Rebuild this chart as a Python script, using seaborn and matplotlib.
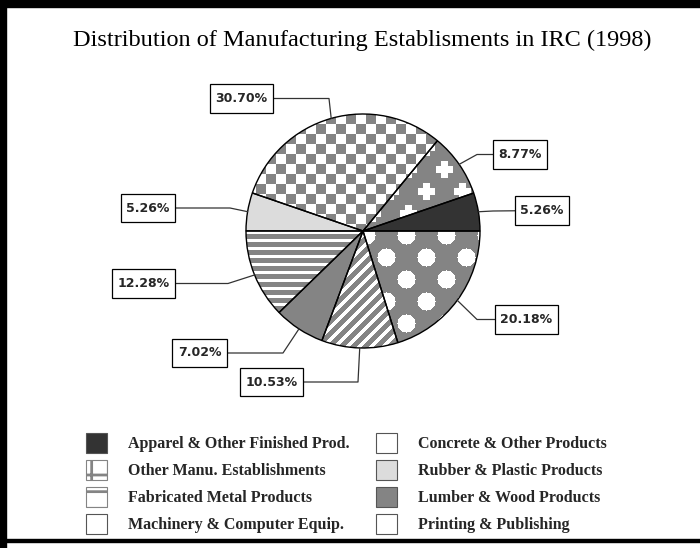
# plot.py
import numpy as np
import matplotlib
matplotlib.use('Agg')
import matplotlib.pyplot as plt
from matplotlib.patches import Patch, Rectangle
from matplotlib.path import Path
import seaborn as sns

# === 1. Data ===
title = 'Distribution of Manufacturing Establisments in IRC (1998)'
categories = ['Apparel & Other Finished Prod.', 'Concrete & Other Products',
              'Other Manu. Establishments', 'Rubber & Plastic Products',
              'Fabricated Metal Products', 'Lumber & Wood Products',
              'Machinery & Computer Equip.', 'Printing & Publishing']
shares = [5.26, 8.77, 30.70, 5.26, 12.28, 7.02, 10.53, 20.18]

# === 2. Styles ===
GRAY = '#848484'
fills = ['#333333', GRAY, GRAY, '#dcdcdc', GRAY, GRAY, GRAY, GRAY]
patterns = [None, 'cross', 'checker', None, 'hstripe', None, 'diag', 'dots']
legend_faces = ['#333333', 'white', 'white', '#dcdcdc', 'white', GRAY, 'white', 'white']
legend_hatch = [None, None, '+', None, '-', None, None, None]

# layout in pixels of the 700x548 canvas
CX, CY, R_PX = 363, 231, 117
W, H = 700, 548
box_px = [(542, 210.5), (520, 154.5), (241.5, 98.5), (148, 208),
          (143.5, 283.5), (199.5, 353), (271.5, 382), (526.5, 319.5)]
elbow_px = [(493, 211), (477, 154.5), (329, 98.5), (230, 208),
            (228, 283.5), (283, 353), (358, 382), (477, 319.5)]


def to_data(px, py):
    return (px - CX) / R_PX, (CY - py) / R_PX


def label_box(x0, y0, width, height, mutation_size):
    # plain rectangle, more padding top/bottom than left/right
    px, py = 0.45 * mutation_size, 0.62 * mutation_size
    x0, y0 = x0 - px, y0 - py
    x1, y1 = x0 + width + 2 * px, y0 + height + 2 * py
    return Path([(x0, y0), (x1, y0), (x1, y1), (x0, y1), (x0, y0)], closed=True)


# === 3. Pattern images for the textured slices ===
n = 2 * R_PX
ii, jj = np.mgrid[0:n, 0:n]
gray_rgb = np.array(matplotlib.colors.to_rgb(GRAY))
white_rgb = np.ones(3)


def make_pattern(kind):
    if kind == 'checker':
        m = ((ii // 10 + jj // 10) % 2) == 0
    elif kind == 'hstripe':
        m = (ii % 8) < 5
    elif kind == 'diag':
        m = ((ii + jj) % 12) < 7
    elif kind == 'dots':
        row = ii // 22
        dx = (jj + (row % 2) * 20) % 40 - 20
        dy = ii % 22 - 11
        m = ~(dx ** 2 + dy ** 2 <= 81)
    else:  # cross
        row = ii // 22
        dx = (jj + (row % 2) * 18) % 36 - 18
        dy = ii % 22 - 11
        white = (((abs(dx) <= 8) & (abs(dy) <= 3)) |
                 ((abs(dx) <= 3) & (abs(dy) <= 8)))
        m = ~white
    return np.where(m[..., None], gray_rgb, white_rgb)


# === 4. Figure ===
sns.set_theme(style='white')
plt.rcParams['hatch.linewidth'] = 2.0

fig = plt.figure(figsize=(7, 5.48), dpi=100)
ax = fig.add_axes([0, 0, 1, 1])

wedges, _ = ax.pie(shares, colors=fills, startangle=0, counterclock=True,
                   radius=1, center=(0, 0),
                   wedgeprops=dict(edgecolor='none', linewidth=0))

for w, kind in zip(wedges, patterns):
    if kind is None:
        continue
    im = ax.imshow(make_pattern(kind), extent=(-1, 1, -1, 1),
                   interpolation='nearest', zorder=2)
    im.set_clip_path(w)

# outlines on top
outl, _ = ax.pie(shares, startangle=0, counterclock=True, radius=1,
                 center=(0, 0),
                 wedgeprops=dict(fill=False, edgecolor='black', linewidth=1.0))
for w in outl:
    w.set_zorder(3)

# === 5. Percent boxes with leader lines ===
for w, v, (bx, by), (ex, ey) in zip(wedges, shares, box_px, elbow_px):
    ang = np.deg2rad((w.theta1 + w.theta2) / 2)
    x0, y0 = np.cos(ang), np.sin(ang)
    x1, y1 = to_data(ex, ey)
    x2, y2 = to_data(bx, by)
    ax.plot([x0, x1, x2], [y0, y1, y2], color='#333333', lw=0.9, zorder=4)
    ax.text(x2, y2, f'{v:.2f}%', ha='center', va='center',
            fontsize=9, fontweight='bold', family='DejaVu Sans', zorder=5,
            bbox=dict(boxstyle=label_box, fc='white', ec='black', lw=0.9))

# === 6. Title ===
tx, ty = to_data(362.5, 40)
ax.text(tx, ty, title, ha='center', va='center', fontsize=17.5,
        family='Liberation Serif', color='black')

# === 7. Legend (column-major, so reorder to read row by row) ===
order = [0, 2, 4, 6, 1, 3, 5, 7]
handles = [Patch(facecolor=legend_faces[k], edgecolor='#555555',
                 hatch=legend_hatch[k], linewidth=0.8) for k in order]
labels = [categories[k] for k in order]
for h, k in zip(handles, order):
    if legend_hatch[k]:
        h.set_edgecolor(GRAY)
leg = ax.legend(handles, labels, ncol=2, loc='upper left',
                bbox_to_anchor=(86 / W, 1 - 433 / H),
                bbox_transform=fig.transFigure, frameon=False,
                borderpad=0, borderaxespad=0,
                handlelength=1.31, handleheight=1.57, handletextpad=1.31,
                labelspacing=0.42, columnspacing=1.69,
                prop=dict(family='Liberation Serif', weight='bold', size=11.5))

# === 8. Frame lines around the picture ===
fig.add_artist(Rectangle((0, 1 - 7 / H), 1, 7 / H, transform=fig.transFigure,
                         color='black', zorder=10))
fig.add_artist(Rectangle((0, 0), 6 / W, 1, transform=fig.transFigure,
                         color='black', zorder=10))
fig.add_artist(Rectangle((0, 1 - 542 / H), 1, 3 / H, transform=fig.transFigure,
                         color='black', zorder=10))

ax.set_aspect('auto')
ax.set_xlim(-CX / R_PX, (W - CX) / R_PX)
ax.set_ylim(-(H - CY) / R_PX, CY / R_PX)
ax.axis('off')

fig.savefig('out.png', dpi=100)
